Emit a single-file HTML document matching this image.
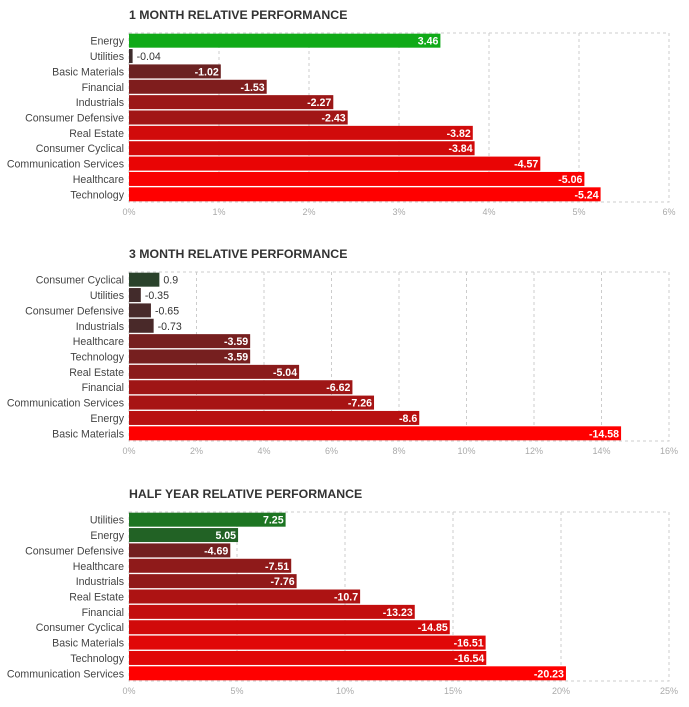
<!DOCTYPE html>
<html><head><meta charset="utf-8"><style>
body{margin:0;background:#fff;font-family:"Liberation Sans",sans-serif;}
svg text{font-family:"Liberation Sans",sans-serif;}
</style></head><body>
<svg id="c" width="689" height="702"></svg>
<script>
const cats1=["Energy","Utilities","Basic Materials","Financial","Industrials","Consumer Defensive","Real Estate","Consumer Cyclical","Communication Services","Healthcare","Technology"];
const vals1=[3.46,-0.04,-1.02,-1.53,-2.27,-2.43,-3.82,-3.84,-4.57,-5.06,-5.24];
const ticks1=[0,1,2,3,4,5,6];
const cats2=["Consumer Cyclical","Utilities","Consumer Defensive","Industrials","Healthcare","Technology","Real Estate","Financial","Communication Services","Energy","Basic Materials"];
const vals2=[0.9,-0.35,-0.65,-0.73,-3.59,-3.59,-5.04,-6.62,-7.26,-8.6,-14.58];
const ticks2=[0,2,4,6,8,10,12,14,16];
const cats3=["Utilities","Energy","Consumer Defensive","Healthcare","Industrials","Real Estate","Financial","Consumer Cyclical","Basic Materials","Technology","Communication Services"];
const vals3=[7.25,5.05,-4.69,-7.51,-7.76,-10.7,-13.23,-14.85,-16.51,-16.54,-20.23];
const ticks3=[0,5,10,15,20,25];
const titles=["1 MONTH RELATIVE PERFORMANCE","3 MONTH RELATIVE PERFORMANCE","HALF YEAR RELATIVE PERFORMANCE"];
const NS="http://www.w3.org/2000/svg";
const svg=document.getElementById('c');
function mk(t,a,p){const e=document.createElementNS(NS,t);for(const k in a)e.setAttribute(k,a[k]);(p||svg).appendChild(e);return e;}
function lerp(a,b,t){return a.map((v,i)=>Math.round(v+(b[i]-v)*t));}
function color(v,max){const t=Math.min(1,Math.abs(v)/max);
 if(v>=0){const c=lerp([45,55,45],[16,170,24],Math.min(1,t/0.66));return `rgb(${c})`;}
 const c=lerp([58,45,45],[255,0,0],Math.pow(t,0.85));return `rgb(${c})`;}
function chart(idx,cats,vals,ticks,top){
 const g=mk('g',{});
 
 
 const x0=129,x1=669,y0=top,y1=top+169;
 const tmax=ticks[ticks.length-1];
 const xs=v=>x0+(x1-x0)*Math.abs(v)/tmax;
 const tt=mk('text',{x:129,y:top-14,'font-size':12.3,fill:'#333','font-weight':'bold',textLength:0},g);tt.removeAttribute('textLength');tt.textContent=titles[idx];
 
 mk('rect',{x:x0,y:y0,width:x1-x0,height:y1-y0,fill:'none',stroke:'#ccc','stroke-dasharray':'3,3'},g);
 ticks.forEach(t=>{const x=xs(t);
  if(t>0&&t<tmax)mk('line',{x1:x,x2:x,y1:y0,y2:y1,stroke:'#ccc','stroke-dasharray':'3,3'},g);
  const l=mk('text',{x:x,y:y1+13,'font-size':9,fill:'#aaa','text-anchor':'middle'},g);l.textContent=t+'%';
  });
 const maxAbs=Math.max(...vals.map(Math.abs));
 const step=(y1-y0)/cats.length;
 cats.forEach((c,i)=>{const yc=y0+step*(i+0.5);const v=vals[i];const w=xs(v)-x0;
  const lab=mk('text',{x:124,y:yc+4,'font-size':10.6,fill:'#444','text-anchor':'end'},g);lab.textContent=c;
  
  const r=mk('rect',{x:x0,y:yc-7,width:Math.max(w,2),height:14,fill:color(v,maxAbs)},g);
  
  const inside=w>40;
  const vt=mk('text',{x:inside?x0+w-2:x0+Math.max(w,2)+4,y:yc+4,'font-size':10.6,'font-weight':inside?'bold':'normal',fill:inside?'#fff':'#333','text-anchor':inside?'end':'start'},g);
  vt.textContent=v;
  });
}
chart(0,cats1,vals1,ticks1,33);
chart(1,cats2,vals2,ticks2,272);
chart(2,cats3,vals3,ticks3,512);
</script>
</body></html>
